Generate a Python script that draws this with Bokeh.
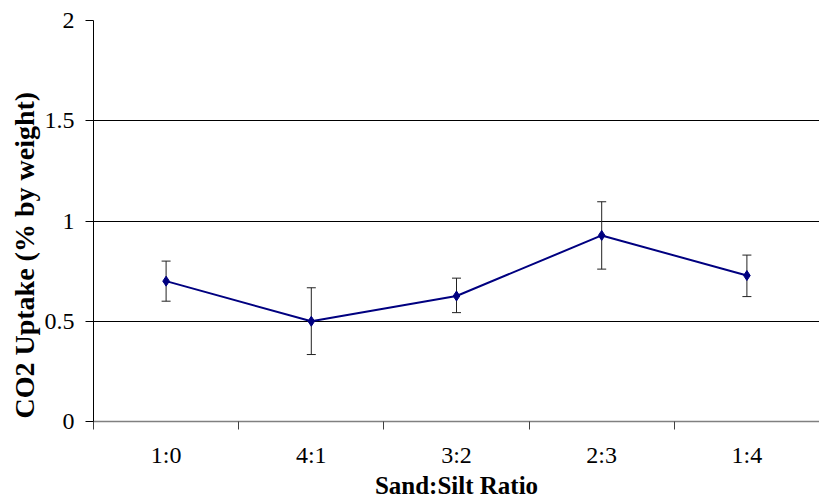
from bokeh.plotting import figure
from bokeh.models import ColumnDataSource, Whisker, FixedTicker, Range1d, TeeHead, Title
from bokeh.embed import file_html
from bokeh.resources import INLINE

categories = ["1:0", "4:1", "3:2", "2:3", "1:4"]
uptake = [0.70, 0.50, 0.626, 0.928, 0.728]
err_low = [0.60, 0.334, 0.543, 0.760, 0.623]
err_high = [0.80, 0.667, 0.715, 1.096, 0.830]
y_ticks = [0, 0.5, 1, 1.5, 2]
x_title = "Sand:Silt Ratio"
y_title = "CO2 Uptake (% by weight)"

xpos = [i + 0.5 for i in range(len(categories))]
src = ColumnDataSource(dict(x=xpos, y=uptake, lo=err_low, hi=err_high))

FONT = "Liberation Serif"

p = figure(width=819, height=501, output_backend="svg", toolbar_location=None,
           x_range=Range1d(0, len(categories)), y_range=Range1d(0, 2),
           min_border_top=20, min_border_left=93, min_border_right=0, min_border_bottom=80)
p.outline_line_color = None
p.background_fill_color = "white"
p.border_fill_color = "white"

# y axis
p.yaxis.ticker = FixedTicker(ticks=y_ticks)
p.yaxis.major_tick_out = 8
p.yaxis.major_tick_in = 0
p.yaxis.minor_tick_line_color = None
p.yaxis.axis_line_color = "black"
p.yaxis.major_tick_line_color = "black"
p.yaxis.major_label_text_font = FONT
p.yaxis.major_label_text_font_size = "24px"
p.yaxis.major_label_text_color = "black"
p.yaxis.major_label_standoff = 11

# y title (sits lower than the frame centre, as in the original)
p.add_layout(Title(text=y_title, align="left", offset=3, standoff=4,
                   text_font=FONT, text_font_style="bold", text_font_size="28px",
                   text_color="black"), "left")

# x axis
p.xaxis.ticker = FixedTicker(ticks=xpos, minor_ticks=list(range(len(categories) + 1)))
p.xaxis.major_label_overrides = {x: c for x, c in zip(xpos, categories)}
p.xaxis.major_tick_line_color = None
p.xaxis.major_tick_out = 0
p.xaxis.major_tick_in = 0
p.xaxis.minor_tick_out = 8
p.xaxis.minor_tick_in = 0
p.xaxis.minor_tick_line_color = "#404040"
p.xaxis.axis_line_color = "#808080"
p.xaxis.axis_line_width = 1.5
p.xaxis.major_label_text_font = FONT
p.xaxis.major_label_text_font_size = "24px"
p.xaxis.major_label_text_color = "black"
p.xaxis.major_label_standoff = 12
p.xaxis.axis_label = x_title
p.xaxis.axis_label_text_font = FONT
p.xaxis.axis_label_text_font_style = "bold"
p.xaxis.axis_label_text_font_size = "25px"
p.xaxis.axis_label_text_color = "black"
p.xaxis.axis_label_standoff = 1

p.xgrid.grid_line_color = None
p.ygrid.ticker = FixedTicker(ticks=y_ticks[1:])
p.ygrid.grid_line_color = "black"
p.ygrid.grid_line_width = 1

w = Whisker(source=src, base="x", upper="hi", lower="lo",
            line_color="#222222", line_width=1,
            upper_head=TeeHead(size=9, line_color="#222222", line_width=1),
            lower_head=TeeHead(size=9, line_color="#222222", line_width=1))
p.add_layout(w)

p.line("x", "y", source=src, line_color="#000080", line_width=2)
p.scatter("x", "y", source=src, marker="diamond", size=10,
          fill_color="#000080", line_color="#000080")

open("out.html", "w").write(file_html(p, INLINE))
